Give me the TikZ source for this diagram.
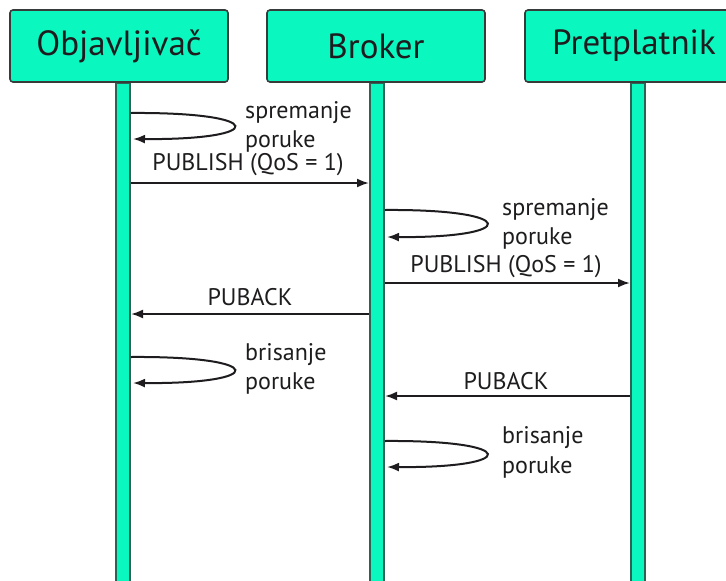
\documentclass[tikz,border=0pt]{standalone}
\usepackage{fontspec}
\setmainfont{PT Sans}
\usetikzlibrary{arrows.meta}
\definecolor{aqua}{RGB}{10,248,192}
\definecolor{edge}{RGB}{55,60,58}
\definecolor{ink}{RGB}{30,28,30}
\tikzset{
  actor/.style={draw=edge, line width=1.6pt, fill=aqua, rounded corners=3pt, minimum width=218pt, minimum height=72pt, inner sep=0pt, font=\fontsize{35}{36}\selectfont, text=ink},
  life/.style={draw=edge!80!aqua, line width=1.4pt, fill=aqua, minimum width=14pt, minimum height=520pt, inner sep=0pt, anchor=north},
  msg/.style={draw=ink, line width=2pt, -{Latex[length=12pt,width=9pt]}},
  lbl/.style={font=\fontsize{24}{25}\selectfont, text=ink, inner sep=0pt},
  note/.style={lbl, anchor=west, align=left}
}
\begin{document}
\begin{tikzpicture}[x=1pt,y=-1pt]
\useasboundingbox[fill=white] (0,0) rectangle (726,581);
% actors
\node[actor] (O) at (119,46) {Objavljivač};
\node[actor] (B) at (376,46) {Broker};
\node[actor] (P) at (634,46) {Pretplatnik};
% lifelines
\node[life] (l1) at (123,83) {};
\node[life] (l2) at (377,83) {};
\node[life] (l3) at (638,83) {};
% coordinates
\coordinate (a1) at (131,113); \coordinate (a2) at (133,139);
\coordinate (p1s) at (131,183); \coordinate (p1e) at (369,183);
\coordinate (b1) at (385,210); \coordinate (b2) at (387,237);
\coordinate (p2s) at (385,283); \coordinate (p2e) at (630,283);
\coordinate (q1s) at (369,314); \coordinate (q1e) at (131,314);
\coordinate (a3) at (131,357); \coordinate (a4) at (133,383);
\coordinate (q2s) at (630,396); \coordinate (q2e) at (385,396);
\coordinate (b3) at (385,441); \coordinate (b4) at (387,467);
% self loops
\draw[msg] (a1) .. controls (268,112) and (268,140) .. (a2);
\node[note] (n1) at (245,113) {spremanje};
\node[note] (n2) at (245,141) {poruke};
\draw[msg] (b1) .. controls (520,209) and (520,238) .. (b2);
\node[note] (n3) at (502,210) {spremanje};
\node[note] (n4) at (502,238) {poruke};
\draw[msg] (a3) .. controls (268,356) and (268,384) .. (a4);
\node[note] (n5) at (245,355) {brisanje};
\node[note] (n6) at (245,383) {poruke};
\draw[msg] (b3) .. controls (520,440) and (520,468) .. (b4);
\node[note] (n7) at (502,438) {brisanje};
\node[note] (n8) at (502,467) {poruke};
% messages
\draw[msg] (p1s) -- (p1e);
\node[lbl] (t1) at (248,165) {PUBLISH (QoS = 1)};
\draw[msg] (p2s) -- (p2e);
\node[lbl] (t2) at (506,267) {PUBLISH (QoS = 1)};
\draw[msg] (q1s) -- (q1e);
\node[lbl] (t3) at (250,297) {PUBACK};
\draw[msg] (q2s) -- (q2e);
\node[lbl] (t4) at (506,381) {PUBACK};
\end{tikzpicture}
\end{document}
